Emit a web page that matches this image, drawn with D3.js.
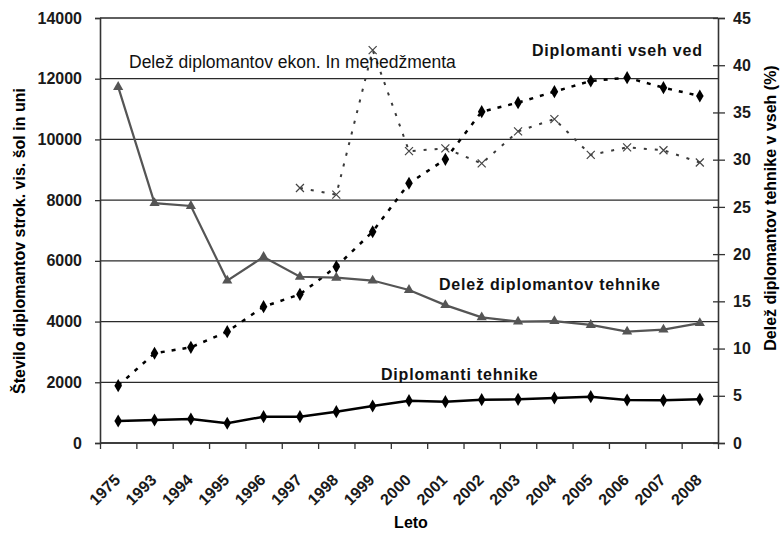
<!DOCTYPE html>
<html>
<head>
<meta charset="utf-8">
<script src="https://cdn.jsdelivr.net/npm/d3@7"></script>
<style>
    body { margin: 0; background: #fff; }
    svg { display: block; font-family: "Liberation Sans", Arial, sans-serif; }
</style>
</head>
<body>
<div id="chart"></div>
<script>
//DATA
const years = ['1975', '1993', '1994', '1995', '1996', '1997', '1998', '1999', '2000', '2001', '2002', '2003', '2004', '2005', '2006', '2007', '2008'];
const diplomantiTehnike = [725, 758, 790, 650, 867, 867, 1032, 1219, 1395, 1361, 1428, 1439, 1482, 1526, 1417, 1406, 1439];
const diplomantiVsehVed = [1888, 2955, 3152, 3668, 4490, 4897, 5808, 6960, 8555, 9344, 10914, 11211, 11574, 11925, 12035, 11706, 11430];
const delezTehnike = [37.7, 25.4, 25.1, 17.2, 19.7, 17.6, 17.5, 17.2, 16.2, 14.6, 13.3, 12.85, 12.9, 12.5, 11.8, 12.0, 12.7];
const delezEkon = [null, null, null, null, null, 27.0, 26.3, 41.6, 30.9, 31.2, 29.6, 33.0, 34.3, 30.5, 31.3, 31.0, 29.7];
const leftTicks = [0, 2000, 4000, 6000, 8000, 10000, 12000, 14000];
const rightTicks = [0, 5, 10, 15, 20, 25, 30, 35, 40, 45];

//SIZE
const width = 782;
const height = 537;
const plotLeft = 100, plotRight = 718, plotTop = 18, plotBottom = 443;

const svg = d3.select('#chart').append('svg')
    .attr('width', width)
    .attr('height', height);

//SCALES
const x = d3.scaleBand().domain(years).range([plotLeft, plotRight]);
const xTicks = d3.scaleLinear().domain([0, years.length]).range([plotLeft, plotRight]);
const yLeft = d3.scaleLinear().domain([0, 14000]).range([plotBottom, plotTop]);
const yRight = d3.scaleLinear().domain([0, 45]).range([plotBottom, plotTop]);
const cx = d => x(d) + x.bandwidth() / 2;

//GRID
svg.append('g')
    .selectAll('line')
    .data(leftTicks)
    .join('line')
    .attr('x1', plotLeft)
    .attr('x2', plotRight)
    .attr('y1', d => yLeft(d))
    .attr('y2', d => yLeft(d))
    .attr('stroke', '#2a2a2a')
    .attr('stroke-width', 1.3);

//AXES
const leftAxis = svg.append('g')
    .attr('transform', `translate(${plotLeft},0)`)
    .call(d3.axisLeft(yLeft).tickValues(leftTicks).tickSize(5).tickPadding(13).tickFormat(d3.format('d')));

const rightAxis = svg.append('g')
    .attr('transform', `translate(${plotRight},0)`)
    .call(d3.axisRight(yRight).tickValues(rightTicks).tickSize(7).tickPadding(8));
rightAxis.selectAll('.tick line').attr('x1', -5);

const bottomAxis = svg.append('g')
    .attr('transform', `translate(0,${plotBottom})`)
    .call(d3.axisBottom(xTicks).ticks(years.length).tickSize(6).tickFormat(''));

[leftAxis, rightAxis, bottomAxis].forEach(a => {
    a.select('.domain').attr('stroke', '#333').attr('stroke-width', 1.6);
    a.selectAll('.tick line').attr('stroke', '#333').attr('stroke-width', 1.3);
    a.selectAll('.tick text')
        .attr('fill', '#1a1a1a')
        .style('font-size', '16px')
        .style('font-weight', 'bold');
});
bottomAxis.select('.domain').attr('d', `M${plotLeft},0H${plotRight}`);

//YEAR LABELS
svg.append('g')
    .selectAll('text')
    .data(years)
    .join('text')
    .attr('transform', d => `translate(${cx(d) + 3},481) rotate(-45)`)
    .attr('text-anchor', 'end')
    .attr('fill', '#1a1a1a')
    .style('font-size', '16px')
    .style('font-weight', 'bold')
    .text(d => d);

//AXIS TITLES
svg.append('text')
    .attr('x', 411)
    .attr('y', 528)
    .attr('text-anchor', 'middle')
    .style('font-size', '16px')
    .style('font-weight', 'bold')
    .text('Leto');

svg.append('text')
    .attr('transform', 'translate(25,241) rotate(-90)')
    .attr('text-anchor', 'middle')
    .style('font-size', '16px')
    .style('font-weight', 'bold')
    .text('Število diplomantov strok. vis. šol in uni');

svg.append('text')
    .attr('transform', 'translate(776,208) rotate(-90)')
    .attr('text-anchor', 'middle')
    .style('font-size', '16px')
    .style('font-weight', 'bold')
    .text('Delež diplomantov tehnike v vseh (%)');

//LINES
const drawLine = (values, y, color, widthLine, dash) => {
    const line = d3.line()
        .defined(d => d[1] !== null)
        .x(d => cx(d[0]))
        .y(d => y(d[1]));
    svg.append('path')
        .datum(years.map((yr, i) => [yr, values[i]]))
        .attr('d', line)
        .attr('fill', 'none')
        .attr('stroke', color)
        .attr('stroke-width', widthLine)
        .attr('stroke-dasharray', dash);
}

drawLine(delezEkon, yRight, '#3a3a3a', 2, '3,8');
drawLine(diplomantiVsehVed, yLeft, '#000', 2.5, '4,7');
drawLine(delezTehnike, yRight, '#555', 2.2, null);
drawLine(diplomantiTehnike, yLeft, '#000', 2.5, null);

//MARKERS
const points = (values) => years.map((yr, i) => [yr, values[i]]).filter(d => d[1] !== null);

svg.append('g')
    .selectAll('path')
    .data(points(delezEkon))
    .join('path')
    .attr('d', 'M-4,-4L4,4M-4,4L4,-4')
    .attr('transform', d => `translate(${cx(d[0])},${yRight(d[1])})`)
    .attr('stroke', '#444')
    .attr('stroke-width', 1.2);

const diamond = d3.symbol().type(d3.symbolDiamond).size(50);
const triangle = d3.symbol().type(d3.symbolTriangle).size(45);

svg.append('g')
    .selectAll('path')
    .data(points(diplomantiVsehVed))
    .join('path')
    .attr('d', diamond)
    .attr('transform', d => `translate(${cx(d[0])},${yLeft(d[1])})`)
    .attr('fill', '#000');

svg.append('g')
    .selectAll('path')
    .data(points(delezTehnike))
    .join('path')
    .attr('d', triangle)
    .attr('transform', d => `translate(${cx(d[0])},${yRight(d[1])})`)
    .attr('fill', '#555');

svg.append('g')
    .selectAll('path')
    .data(points(diplomantiTehnike))
    .join('path')
    .attr('d', diamond)
    .attr('transform', d => `translate(${cx(d[0])},${yLeft(d[1])})`)
    .attr('fill', '#000');

//SERIES LABELS
const labels = [
    { text: 'Delež diplomantov ekon. In menedžmenta', x: 129, y: 68, bold: false },
    { text: 'Diplomanti vseh ved', x: 532, y: 56, bold: true },
    { text: 'Delež diplomantov tehnike', x: 439, y: 290, bold: true },
    { text: 'Diplomanti tehnike', x: 381, y: 380, bold: true }
];

svg.append('g')
    .selectAll('text')
    .data(labels)
    .join('text')
    .attr('x', d => d.x)
    .attr('y', d => d.y)
    .attr('fill', '#111')
    .style('font-size', d => d.bold ? '16px' : '17.5px')
    .style('font-weight', d => d.bold ? 'bold' : 'normal')
    .style('letter-spacing', d => d.bold ? '0.8px' : '0px')
    .text(d => d.text);
</script>
</body>
</html>
